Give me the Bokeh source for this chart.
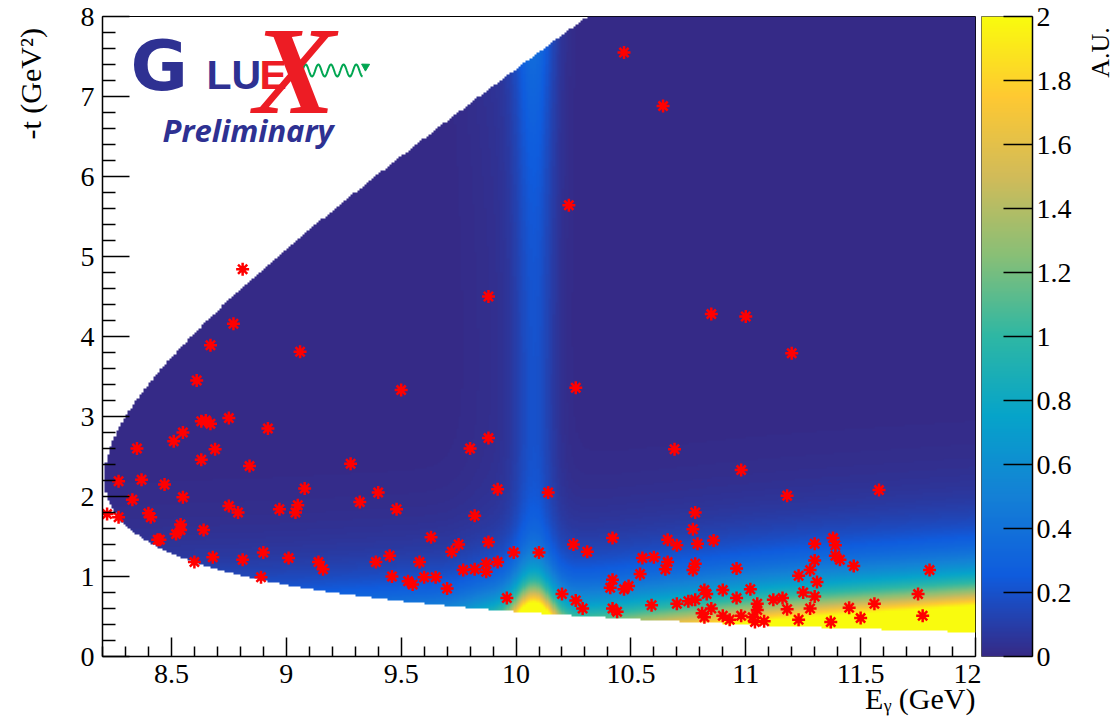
import math
import numpy as np
from bokeh.plotting import figure
from bokeh.layouts import row
from bokeh.core.properties import value
from bokeh.models import (ColumnDataSource, LinearColorMapper, FixedTicker,
                          Label, CustomJSTickFormatter, Range1d, Title)
from bokeh.embed import file_html
from bokeh.resources import INLINE

# ---------------- data ----------------
E_GAMMA = [10.47, 10.64, 10.23, 8.81, 9.88, 10.85, 11.00, 8.77, 8.67, 9.06,
           11.20, 8.61, 10.26, 9.50, 8.63, 8.65, 8.67, 8.75, 8.92, 8.55,
           8.51, 8.35, 8.69, 8.63, 8.84, 9.28, 9.88, 9.80, 10.69, 10.98,
           8.27, 8.37, 8.47, 9.08, 9.40, 9.92, 10.14, 11.18, 11.58, 8.55,
           8.33, 9.32, 8.22, 8.27, 8.40, 8.41, 8.75, 8.79, 8.97, 9.05,
           9.04, 9.48, 9.82, 10.78, 8.54, 8.52, 8.54, 8.64, 8.44, 8.45,
           10.77, 9.63, 9.75, 9.72, 9.88, 9.99, 10.10, 10.25, 10.31, 10.42,
           10.79, 10.86, 11.30, 11.38, 11.39, 8.68, 8.60, 8.81, 8.90, 9.01,
           9.14, 9.16, 9.39, 9.45, 9.58, 9.77, 9.82, 9.87, 9.92, 9.87,
           10.55, 10.60, 10.66, 10.70, 10.66, 10.65, 10.78, 10.77, 10.96, 11.30,
           11.39, 11.41, 11.47, 11.28, 11.23, 11.80, 8.89, 9.46, 9.60, 9.65,
           9.53, 9.55, 9.70, 10.42, 10.41, 10.47, 10.49, 10.54, 11.31, 10.82,
           10.83, 10.90, 11.02, 10.96, 9.96, 10.20, 10.26, 10.29, 10.42, 10.44,
           10.59, 10.70, 10.75, 10.78, 10.82, 10.81, 10.85, 10.90, 10.93, 10.98,
           11.03, 11.04, 11.08, 11.05, 11.05, 11.12, 11.16, 11.18, 11.23, 11.25,
           11.30, 11.28, 11.37, 11.45, 11.50, 11.56, 11.75, 11.77]
MINUS_T = [7.55, 6.88, 5.64, 4.84, 4.50, 4.28, 4.25, 4.16, 3.89, 3.81,
           3.79, 3.45, 3.36, 3.33, 2.94, 2.95, 2.91, 2.98, 2.85, 2.80,
           2.69, 2.60, 2.59, 2.46, 2.38, 2.41, 2.73, 2.60, 2.59, 2.33,
           2.19, 2.21, 2.15, 2.10, 2.05, 2.09, 2.05, 2.01, 2.08, 1.99,
           1.96, 1.93, 1.78, 1.74, 1.79, 1.74, 1.88, 1.80, 1.84, 1.89,
           1.80, 1.84, 1.76, 1.80, 1.65, 1.53, 1.58, 1.58, 1.46, 1.46,
           1.59, 1.49, 1.40, 1.31, 1.43, 1.30, 1.30, 1.40, 1.31, 1.48,
           1.41, 1.45, 1.41, 1.48, 1.39, 1.24, 1.18, 1.21, 1.30, 1.23,
           1.18, 1.09, 1.18, 1.26, 1.18, 1.08, 1.09, 1.16, 1.18, 1.06,
           1.23, 1.24, 1.46, 1.39, 1.18, 1.09, 1.16, 1.08, 1.10, 1.20,
           1.26, 1.21, 1.13, 1.08, 1.01, 1.08, 0.99, 1.00, 0.99, 0.99,
           0.94, 0.90, 0.85, 0.96, 0.86, 0.84, 0.88, 1.03, 0.93, 0.83,
           0.78, 0.83, 0.84, 0.73, 0.73, 0.78, 0.70, 0.60, 0.60, 0.56,
           0.64, 0.66, 0.69, 0.71, 0.49, 0.54, 0.60, 0.51, 0.46, 0.51,
           0.49, 0.43, 0.44, 0.66, 0.58, 0.71, 0.73, 0.59, 0.46, 0.80,
           0.75, 0.60, 0.43, 0.61, 0.48, 0.66, 0.78, 0.51]

X_TICKS = [8.5, 9.0, 9.5, 10.0, 10.5, 11.0, 11.5, 12.0]
X_MINOR_TICKS = [8.2, 8.3, 8.4, 8.6, 8.7, 8.8, 8.9, 9.1, 9.2, 9.3, 9.4, 9.6, 9.7,
                 9.8, 9.9, 10.1, 10.2, 10.3, 10.4, 10.6, 10.7, 10.8, 10.9, 11.1,
                 11.2, 11.3, 11.4, 11.6, 11.7, 11.8, 11.9]
Y_TICKS = [0, 1, 2, 3, 4, 5, 6, 7, 8]
Y_MINOR_TICKS = [0.2, 0.4, 0.6, 0.8, 1.2, 1.4, 1.6, 1.8, 2.2, 2.4, 2.6, 2.8,
                 3.2, 3.4, 3.6, 3.8, 4.2, 4.4, 4.6, 4.8, 5.2, 5.4, 5.6, 5.8,
                 6.2, 6.4, 6.6, 6.8, 7.2, 7.4, 7.6, 7.8]
Z_TICKS = [0, 0.2, 0.4, 0.6, 0.8, 1, 1.2, 1.4, 1.6, 1.8, 2]
X_TITLE = "E\u1d67 (GeV)"
Y_TITLE = "-t (GeV\u00b2)"
Z_TITLE = "A.U."

# intensity model (values estimated from the colours of the map)
AMP_E = [8.2, 9.0, 9.72, 10.4, 10.76, 11.06, 11.67, 12.0]
AMP_VAL = [1.4, 1.7, 2.2, 3.6, 4.7, 5.8, 7.9, 9.2]
SLOPE_B = 2.4
RES_E0, RES_SIGMA = 10.08, 0.06
RES_BASE, RES_FWD, RES_FWD_SLOPE, RES_BWD, RES_BWD_LEN = 0.17, 1.7, 3.2, 0.15, 1.5
BROAD_E0, BROAD_SIGMA, BROAD_AMP = 9.98, 0.13, 0.15

# ROOT kBird palette stops
KB_R = [0.2082, 0.0592, 0.0780, 0.0232, 0.1802, 0.5301, 0.8186, 0.9956, 0.9764]
KB_G = [0.1664, 0.3599, 0.5041, 0.6419, 0.7178, 0.7492, 0.7328, 0.7862, 0.9832]
KB_B = [0.5293, 0.8684, 0.8385, 0.7914, 0.6425, 0.4662, 0.3499, 0.1968, 0.0539]

MP, MJ = 0.938272, 3.0969


def t_limits(E):
    s = MP ** 2 + 2 * MP * E
    rs = np.sqrt(s)
    p_in = (s - MP ** 2) / (2 * rs)
    e3 = (s + MJ ** 2 - MP ** 2) / (2 * rs)
    p_out = np.sqrt(np.clip((s - (MJ + MP) ** 2) * (s - (MJ - MP) ** 2), 0, None)) / (2 * rs)
    return 2 * p_in * (e3 - p_out) - MJ ** 2, 2 * p_in * (e3 + p_out) - MJ ** 2


nx, ny = 380, 320
ec = 8.2 + (np.arange(nx) + 0.5) * 3.8 / nx
tc = (np.arange(ny) + 0.5) * 8.0 / ny
EE, TT = np.meshgrid(ec, tc)
tmin, tmax = t_limits(EE)
amp = np.interp(EE, AMP_E, AMP_VAL)
nonres = amp * np.exp(-SLOPE_B * TT)
renv = np.exp(-0.5 * ((EE - RES_E0) / RES_SIGMA) ** 2) + \
    BROAD_AMP * np.exp(-0.5 * ((EE - BROAD_E0) / BROAD_SIGMA) ** 2)
h = RES_BASE + RES_FWD * np.exp(-RES_FWD_SLOPE * np.clip(TT - tmin, 0, None)) + \
    RES_BWD * np.exp(-np.clip(tmax - TT, 0, None) / RES_BWD_LEN)
Z = nonres + renv * h
Z[(TT < tmin) | (TT > tmax)] = np.nan

stops = np.linspace(0, 1, 9)
u = np.linspace(0, 1, 256)
palette = ["#%02x%02x%02x" % (int(round(255 * np.interp(v, stops, KB_R))),
                              int(round(255 * np.interp(v, stops, KB_G))),
                              int(round(255 * np.interp(v, stops, KB_B)))) for v in u]

mapper = LinearColorMapper(palette=palette, low=0, high=2, nan_color="#00000000")

FONT = "Liberation Serif"
TICK_FS = "28px"
TITLE_FS = "30px"
H = 721

# ---------------- left strip holding the y title ----------------
pl = figure(width=56, height=H, min_border=0, x_range=Range1d(0, 56), y_range=Range1d(0, H),
            toolbar_location=None, output_backend="svg", x_axis_location=None,
            y_axis_location=None)
pl.grid.visible = False
pl.outline_line_color = None
pl.text(x=[30], y=[H - 13], text=[Y_TITLE], angle=math.pi / 2, text_align="right",
        text_baseline="middle", text_font=value(FONT), text_font_size=TITLE_FS,
        text_color="black")

# ---------------- main map ----------------
p = figure(frame_width=873, frame_height=640, min_border_left=46, min_border_right=6,
           min_border_top=16, min_border_bottom=65, output_backend="svg",
           toolbar_location=None, x_range=Range1d(8.2, 12), y_range=Range1d(0, 8))
p.grid.visible = False
p.outline_line_color = "black"
p.outline_line_width = 1
p.background_fill_color = "white"

p.image(image=[Z], x=8.2, y=0, dw=3.8, dh=8, color_mapper=mapper)

src = ColumnDataSource(dict(E=E_GAMMA, t=MINUS_T))
p.scatter("E", "t", source=src, marker="asterisk", size=13, line_color="red",
          line_width=2.5)

fmt = CustomJSTickFormatter(code="return String(Math.round(tick*10)/10);")


def style_axis(ax, ticks, minor, tin, minin):
    ax.ticker = FixedTicker(ticks=ticks, minor_ticks=minor)
    ax.formatter = fmt
    ax.major_tick_in = tin
    ax.major_tick_out = 0
    ax.minor_tick_in = minin
    ax.minor_tick_out = 0
    ax.axis_line_color = "black"
    ax.axis_line_width = 1.5
    ax.major_tick_line_width = 1.5
    ax.minor_tick_line_width = 1.5
    ax.major_label_text_font = FONT
    ax.major_label_text_font_size = TICK_FS
    ax.major_label_text_color = "black"


xa, ya = p.xaxis[0], p.yaxis[0]
style_axis(xa, X_TICKS, X_MINOR_TICKS, 19, 10)
style_axis(ya, Y_TICKS, Y_MINOR_TICKS, 27, 13)
xa.major_label_standoff = 8
ya.major_label_standoff = 8
p.add_layout(Title(text=X_TITLE, align="right", vertical_align="bottom", standoff=-12,
                   text_font=FONT, text_font_size=TITLE_FS, text_font_style="normal",
                   text_color="black"), "below")

# ---------------- colour scale ----------------
pz = figure(frame_width=51, frame_height=640, min_border_left=0, min_border_right=52,
            min_border_top=16, min_border_bottom=65, output_backend="svg",
            toolbar_location=None, x_range=Range1d(0, 1), y_range=Range1d(0, 2),
            x_axis_location=None, y_axis_location="right")
pz.grid.visible = False
pz.outline_line_color = "#555555"
pz.outline_line_width = 1
zvals = np.linspace(Z_TICKS[0], Z_TICKS[-1], 512).reshape(512, 1)
pz.image(image=[zvals], x=0, y=0, dw=1, dh=2, color_mapper=mapper)
za = pz.yaxis[0]
style_axis(za, Z_TICKS, [], 29, 0)
za.major_label_standoff = 4

# ---------------- right strip holding the colour-scale title ----------------
pa = figure(width=32, height=H, min_border=0, x_range=Range1d(0, 32), y_range=Range1d(0, H),
            toolbar_location=None, output_backend="svg", x_axis_location=None,
            y_axis_location=None)
pa.grid.visible = False
pa.outline_line_color = None
pa.text(x=[16], y=[H - 12], text=[Z_TITLE], angle=math.pi / 2, text_align="right",
        text_baseline="middle", text_font=value(FONT), text_font_size="26px",
        text_color="black")

# ---------------- GlueX logo ----------------


def px(xp, yp):
    return 8.2 + (xp - 102) / 229.7, (656 - yp) / 80.0


def add_label(xp, yp, text, fs, **kw):
    # yp is the wanted baseline; shift for the way the label is anchored
    x, y = px(xp, yp - 0.33 * fs)
    p.add_layout(Label(x=x, y=y, text=text, text_baseline="alphabetic",
                       text_font_size="%dpx" % fs, **kw))


BLUE, RED, GREEN = "#2e3192", "#ed1c24", "#00a651"
add_label(130, 89, "G", 70, text_font="DejaVu Sans", text_font_style="bold",
          text_color=BLUE)
add_label(206, 88, "LU", 41, text_font="Liberation Sans", text_font_style="bold",
          text_color=BLUE)
add_label(259, 88, "E", 41, text_font="Liberation Sans", text_font_style="bold",
          text_color=RED)
add_label(294, 112, "X", 124, text_align="center", text_font="Liberation Serif",
          text_font_style="bold italic", text_color=RED)
wx0, wx1 = px(302, 70)[0], px(362, 70)[0]
wxs = np.linspace(wx0, wx1, 120)
wys = px(0, 70)[1] + (6 / 80.0) * np.sin((wxs - wx0) / (wx1 - wx0) * 2 * np.pi * 4.75)
p.line(wxs, wys, line_color=GREEN, line_width=2)
ax_, ay_ = px(365, 66)
p.scatter([ax_], [ay_], marker="triangle", size=8, angle=-math.pi / 2 + 0.5,
          fill_color=GREEN, line_color=GREEN)
add_label(162, 140, "Preliminary", 31, text_font="Open Sans",
          text_font_style="bold italic", text_color=BLUE)

open("out.html", "w").write(file_html(row(pl, p, pz, pa), INLINE))
